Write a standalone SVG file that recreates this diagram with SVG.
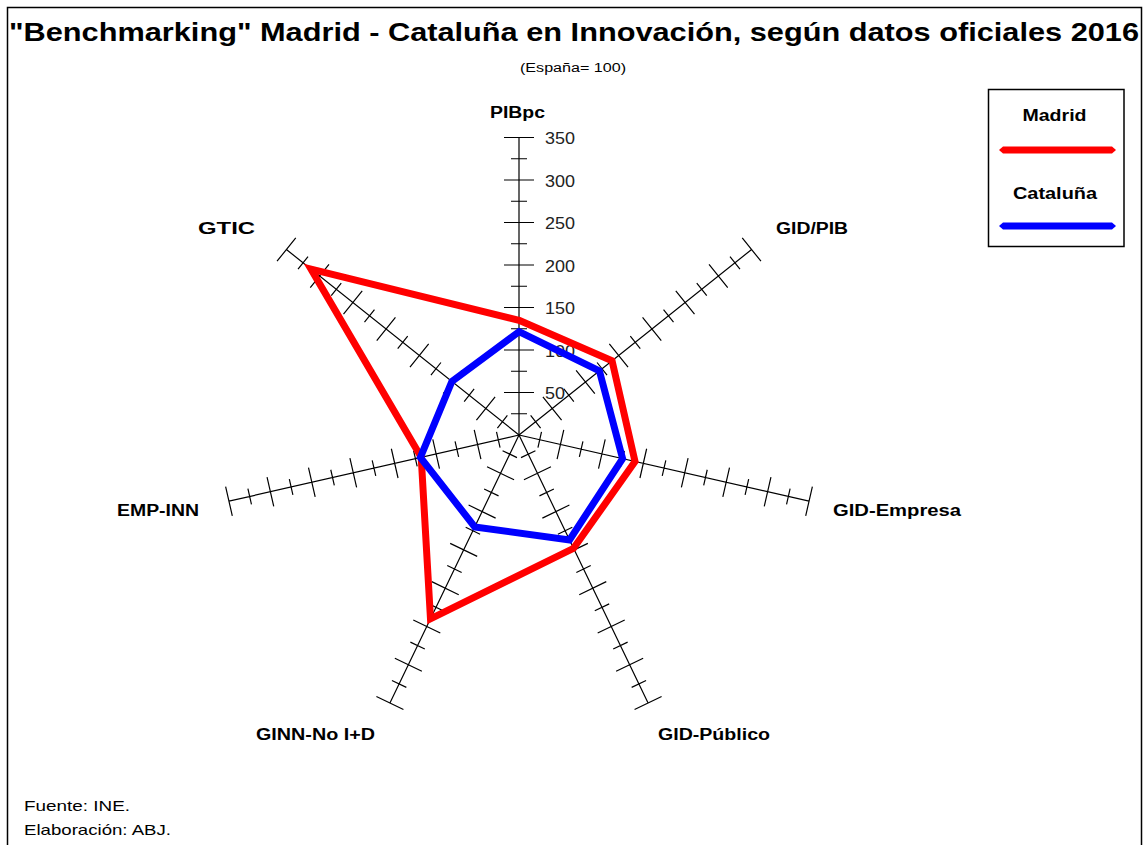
<svg xmlns="http://www.w3.org/2000/svg" xmlns:xlink="http://www.w3.org/1999/xlink" width="1146" height="845" viewBox="0 0 1146 845">
<style>
.ttl{font-family:"Liberation Sans",Arial,sans-serif;font-weight:bold;font-size:26px;fill:#000}
.sub{font-family:"Liberation Sans",Arial,sans-serif;font-size:12px;fill:#000}
.lbl{font-family:"Liberation Sans",Arial,sans-serif;font-weight:bold;font-size:16px;fill:#000}
.num{font-family:"Liberation Sans",Arial,sans-serif;font-size:17px;fill:#222}
.ftr{font-family:"Liberation Sans",Arial,sans-serif;font-size:15px;fill:#000}
.ax{fill:none;stroke:#000;stroke-width:1.2}
.ser{fill:none;stroke-width:7;stroke-linejoin:miter;stroke-miterlimit:10}
</style>
<defs>
<g id="axis">
<path class="ax" d="M0,0V-297.5 M-8,-21.25H8 M-15,-42.5H15 M-8,-63.75H8 M-15,-85H15 M-8,-106.25H8 M-15,-127.5H15 M-8,-148.75H8 M-15,-170H15 M-8,-191.25H8 M-15,-212.5H15 M-8,-233.75H8 M-15,-255H15 M-8,-276.25H8 M-15,-297.5H15"/>
</g>
</defs>
<rect width="1146" height="845" fill="#fff"/>
<rect x="7.5" y="7.5" width="1134" height="900" fill="none" stroke="#000" stroke-width="1.5"/>
<text class="ttl" x="9" y="41" textLength="1130" lengthAdjust="spacingAndGlyphs">"Benchmarking" Madrid - Cataluña en Innovación, según datos oficiales 2016</text>
<text class="sub" x="573" y="72" text-anchor="middle" textLength="106" lengthAdjust="spacingAndGlyphs">(España= 100)</text>
<g id="axes">
<use xlink:href="#axis" transform="translate(519,435)"/>
<use xlink:href="#axis" transform="translate(519,435) rotate(51.4286)"/>
<use xlink:href="#axis" transform="translate(519,435) rotate(102.8571)"/>
<use xlink:href="#axis" transform="translate(519,435) rotate(154.2857)"/>
<use xlink:href="#axis" transform="translate(519,435) rotate(205.7143)"/>
<use xlink:href="#axis" transform="translate(519,435) rotate(257.1429)"/>
<use xlink:href="#axis" transform="translate(519,435) rotate(308.5714)"/>
</g>
<g id="scale">
<text class="num" x="545" y="144" textLength="30" lengthAdjust="spacingAndGlyphs">350</text>
<text class="num" x="545" y="186.5" textLength="30" lengthAdjust="spacingAndGlyphs">300</text>
<text class="num" x="545" y="229" textLength="30" lengthAdjust="spacingAndGlyphs">250</text>
<text class="num" x="545" y="271.5" textLength="30" lengthAdjust="spacingAndGlyphs">200</text>
<text class="num" x="545" y="314" textLength="30" lengthAdjust="spacingAndGlyphs">150</text>
<text class="num" x="545" y="356.5" textLength="30" lengthAdjust="spacingAndGlyphs">100</text>
<text class="num" x="545" y="399" textLength="20" lengthAdjust="spacingAndGlyphs">50</text>
</g>
<g id="labels">
<text class="lbl" x="490" y="118" textLength="55" lengthAdjust="spacingAndGlyphs">PIBpc</text>
<text class="lbl" x="776" y="234" textLength="72" lengthAdjust="spacingAndGlyphs">GID/PIB</text>
<text class="lbl" x="833" y="516" textLength="128" lengthAdjust="spacingAndGlyphs">GID-Empresa</text>
<text class="lbl" x="658" y="740" textLength="112" lengthAdjust="spacingAndGlyphs">GID-Público</text>
<text class="lbl" x="256" y="740" textLength="119" lengthAdjust="spacingAndGlyphs">GINN-No I+D</text>
<text class="lbl" x="117" y="516" textLength="82" lengthAdjust="spacingAndGlyphs">EMP-INN</text>
<text class="lbl" x="198" y="234" textLength="57" lengthAdjust="spacingAndGlyphs">GTIC</text>
</g>
<g id="series">
<polygon id="madrid" class="ser" stroke="#ff0000" points="519,320.25 612.04,360.81 635.02,461.48 573.58,548.34 430.49,618.8 421.21,457.32 310.99,269.12"/>
<polygon id="cataluna" class="ser" stroke="#0000ff" points="519,331.72 599.41,370.87 622.59,458.64 569.53,539.92 474.74,526.9 420.39,457.51 451.88,381.47"/>
</g>
<g id="legend">
<rect x="988.5" y="89.5" width="135.5" height="157" fill="#fff" stroke="#000" stroke-width="1.5"/>
<text class="lbl" x="1054.5" y="121" text-anchor="middle" textLength="64" lengthAdjust="spacingAndGlyphs">Madrid</text>
<polygon fill="#ff0000" points="999,150 1003,146.5 1112,146.5 1116,150 1112,153.5 1003,153.5"/>
<text class="lbl" x="1055" y="199" text-anchor="middle" textLength="84" lengthAdjust="spacingAndGlyphs">Cataluña</text>
<polygon fill="#0000ff" points="999,226 1003,222.5 1112,222.5 1116,226 1112,229.5 1003,229.5"/>
</g>
<g id="footer">
<text class="ftr" x="24" y="811" textLength="106" lengthAdjust="spacingAndGlyphs">Fuente: INE.</text>
<text class="ftr" x="24" y="835" textLength="147" lengthAdjust="spacingAndGlyphs">Elaboración: ABJ.</text>
</g>
</svg>
